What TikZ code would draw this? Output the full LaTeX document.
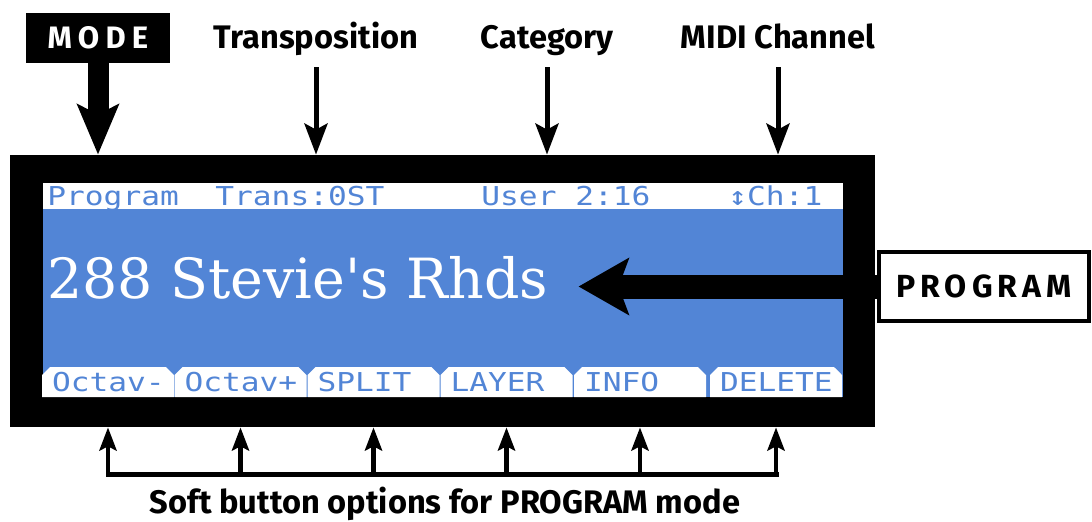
\documentclass[tikz,border=0pt]{standalone}
\usepackage{fontspec}
\setmainfont{Fira Sans}
\newfontfamily\lcdfont{DejaVu Sans Mono}[FakeStretch=1.2]
\newfontfamily\namefont{DejaVu Serif}
\usepackage{tikz}
\usetikzlibrary{arrows.meta,positioning,shapes.misc}
\definecolor{lcdblue}{HTML}{5285D6}

\begin{document}
\begin{tikzpicture}[x=.5pt,y=-.5pt,>=Stealth,
 toplabel/.style={font=\bfseries\fontsize{16.3pt}{19pt}\selectfont,inner sep=0pt,text depth=0pt,anchor=base},
 keybox/.style={font=\bfseries\fontsize{15.5pt}{18pt}\selectfont\addfontfeature{LetterSpace=20},inner sep=0pt},
 lcdtext/.style={font=\lcdfont\fontsize{13pt}{15pt}\selectfont,text=lcdblue,inner sep=0pt,anchor=base west},
 softtab/.style={lcdtext,anchor=center,chamfered rectangle,chamfered rectangle corners={north west,north east},
   chamfered rectangle xsep=2pt,chamfered rectangle ysep=2pt,fill=white,minimum width=64.5pt,minimum height=15pt,
   text width=56pt,align=left,inner xsep=3pt,inner ysep=0pt},
 pointer/.style={-{Stealth[length=15.5pt,width=11.5pt,inset=3pt]},line width=2.5pt,shorten <=9.5pt},
 fatpointer/.style={-{Stealth[length=25pt,width=20.5pt,inset=5pt]},line width=10.5pt},
 bigpointer/.style={-{Stealth[length=25pt,width=28pt,inset=5pt]},line width=12pt,shorten >=15pt},
 buspointer/.style={-{Stealth[length=11.5pt,width=8.5pt,inset=2pt]},line width=2.25pt},
 busline/.style={line width=2.5pt,line cap=rect}]
\useasboundingbox (0,0) rectangle (1092,521);
% display frame and LCD
\node[fill=black,minimum width=432.5pt,minimum height=136pt,inner sep=0pt] (frame) at (442.5,291) {};
\node[fill=white,minimum width=400pt,minimum height=107pt,inner sep=0pt] (screen) at (443,290) {};
\node[fill=lcdblue,minimum width=400pt,minimum height=94pt,inner sep=0pt] (band) at (443,303) {};
\node[lcdtext] (progtxt) at (47,205) {Program};
\node[lcdtext] (transtxt) at (215,205) {Trans:0ST};
\node[lcdtext] (cattxt) at (481,205) {User 2:16};
\node[lcdtext] (chantxt) at (728,205) {↕Ch:1};
\node[font=\namefont\fontsize{27.7pt}{30pt}\selectfont,text=white,inner sep=0pt,anchor=base west] (name) at (47,298) {288 Stevie's Rhds};
\node[softtab] (tab1) at (108,382) {\mbox{Octav-}};
\node[softtab] (tab2) at (240.5,382) {\mbox{Octav+}};
\node[softtab] (tab3) at (373.5,382) {SPLIT};
\node[softtab] (tab4) at (506.5,382) {LAYER};
\node[softtab] (tab5) at (640,382) {INFO};
\node[softtab] (tab6) at (776,382) {DELETE};
% callouts
\node[keybox,fill=black,text=white,minimum width=72pt,minimum height=25pt] (mode) at (98,38) {MODE};
\node[toplabel] (trans) at (316,48) {Transposition};
\node[toplabel] (category) at (547,48) {Category};
\node[toplabel] (midi) at (778,48) {MIDI Channel};
\node[keybox,font=\bfseries\fontsize{16pt}{18pt}\selectfont\addfontfeature{LetterSpace=16},draw,line width=2pt,minimum width=105pt,minimum height=34.5pt] (program) at (984,286.5) {PROGRAM};
\draw[fatpointer] (mode.south)--(mode.south |- frame.north);
\draw[pointer] (trans.south)--(trans.south |- frame.north);
\draw[pointer] (category.south)--(category.south |- frame.north);
\draw[pointer] (midi.south)--(midi.south |- frame.north);
\draw[bigpointer] (program.west)--(program.west -| name.east);
% soft buttons
\node[toplabel] (caption) at (445,513) {Soft button options for PROGRAM mode};
\coordinate (bus) at (445,474);
\draw[busline] (tab1 |- bus)--(tab6 |- bus);
\draw[buspointer] (tab1 |- bus)--(tab1 |- frame.south);\draw[buspointer] (tab2 |- bus)--(tab2 |- frame.south);
\draw[buspointer] (tab3 |- bus)--(tab3 |- frame.south);\draw[buspointer] (tab4 |- bus)--(tab4 |- frame.south);
\draw[buspointer] (tab5 |- bus)--(tab5 |- frame.south);\draw[buspointer] (tab6 |- bus)--(tab6 |- frame.south);
\end{tikzpicture}
\end{document}
